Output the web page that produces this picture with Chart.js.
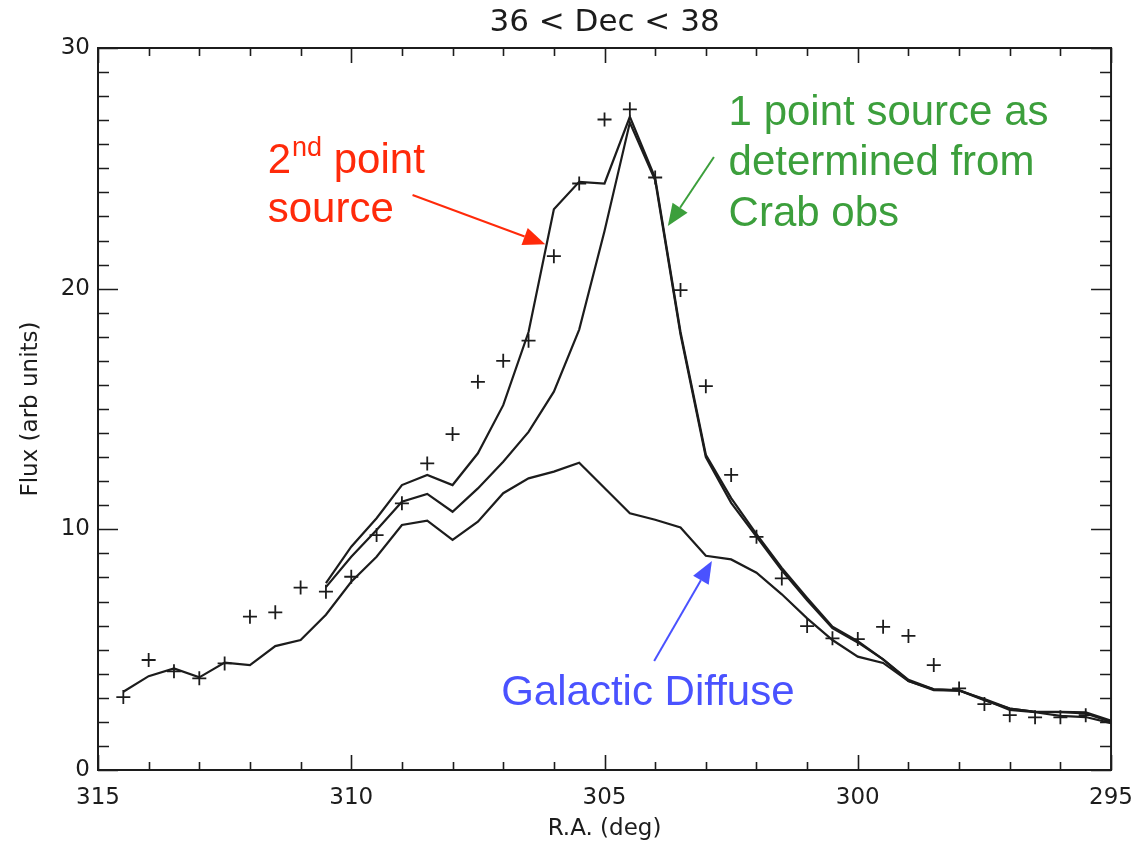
<!DOCTYPE html>
<html>
<head>
<meta charset="utf-8">
<title>36 &lt; Dec &lt; 38</title>
<script src="https://cdn.jsdelivr.net/npm/chart.js@4.4.0/dist/chart.umd.min.js"></script>
<style>
  html, body { margin: 0; padding: 0; background: #ffffff; }
  #fluxChart { display: block; }
</style>
</head>
<body>
<canvas id="fluxChart" width="1147" height="845"></canvas>
<script>
        // measured flux (crosses)
        const raObs = [314.5, 314, 313.5, 313, 312.5, 312, 311.5, 311, 310.5, 310,
                       309.5, 309, 308.5, 308, 307.5, 307, 306.5, 306, 305.5, 305,
                       304.5, 304, 303.5, 303, 302.5, 302, 301.5, 301, 300.5, 300,
                       299.5, 299, 298.5, 298, 297.5, 297, 296.5, 296, 295.5];
        const fluxObs = [3.03, 4.57, 4.1, 3.81, 4.43, 6.37, 6.55, 7.58, 7.41, 8.03,
                         9.76, 11.08, 12.74, 13.96, 16.13, 17.0, 17.84, 21.35, 24.37, 27.03,
                         27.45, 24.62, 19.94, 15.95, 12.26, 9.69, 7.96, 5.98, 5.47, 5.44,
                         5.95, 5.57, 4.36, 3.39, 2.74, 2.28, 2.19, 2.19, 2.28];

        // model curves
        const raModel = [314.5, 314, 313.5, 313, 312.5, 312, 311.5, 311, 310.5, 310,
                         309.5, 309, 308.5, 308, 307.5, 307, 306.5, 306, 305.5, 305,
                         304.5, 304, 303.5, 303, 302.5, 302, 301.5, 301, 300.5, 300,
                         299.5, 299, 298.5, 298, 297.5, 297, 296.5, 296, 295.5, 295];
        const galacticDiffuse = [3.25, 3.9, 4.22, 3.85, 4.46, 4.36, 5.15, 5.4, 6.45, 7.82,
                                 8.86, 10.18, 10.36, 9.56, 10.32, 11.5, 12.12, 12.4, 12.77, 11.72,
                                 10.67, 10.4, 10.08, 8.9, 8.75, 8.2, 7.3, 6.3, 5.4, 4.71,
                                 4.45, 3.7, 3.32, 3.3, 2.95, 2.55, 2.42, 2.4, 2.35, 2.0];
        const onePointSource = [null, null, null, null, null, null, null, null, 7.6, 8.86,
                                9.97, 11.15, 11.47, 10.73, 11.7, 12.81, 14.05, 15.72, 18.3, 22.4,
                                26.9, 24.5, 18.1, 13.0, 11.1, 9.7, 8.3, 7.05, 5.9, 5.3,
                                4.6, 3.7, 3.35, 3.3, 2.9, 2.55, 2.42, 2.42, 2.4, 2.05];
        const twoPointSources = [null, null, null, null, null, null, null, null, 7.76, 9.28,
                                 10.46, 11.84, 12.26, 11.84, 13.16, 15.16, 18.2, 23.3, 24.44, 24.37,
                                 27.14, 24.6, 18.2, 13.1, 11.3, 9.8, 8.4, 7.15, 5.95, 5.35,
                                 4.6, 3.75, 3.35, 3.32, 2.92, 2.5, 2.4, 2.25, 2.2, 1.95];

        const INK = '#1c1c1c';
        const RED = '#ff2a0a';
        const GREEN = '#3c9f3c';
        const BLUE = '#4a52ff';
        const AXIS_FONT = 'DejaVu Sans';
        const NOTE_FONT = '42px "Liberation Sans", Arial, sans-serif';

        function toPoints(xs, ys) {
            return xs.map((x, i) => ({ x: x, y: ys[i] }));
        }

        function modelLine(label, values) {
            return {
                label: label,
                data: toPoints(raModel, values),
                borderColor: INK,
                borderWidth: 2.2,
                pointRadius: 0,
                tension: 0,
                spanGaps: false
            };
        }

        // box frame with inward ticks on all four sides
        const framePlugin = {
            id: 'frame',
            afterDatasetsDraw(chart) {
                const { ctx, chartArea: a, scales: { x, y } } = chart;
                ctx.save();
                ctx.strokeStyle = INK;
                ctx.lineWidth = 1.6;
                ctx.beginPath();
                for (let v = 295; v <= 315; v++) {
                    const px = Math.round(x.getPixelForValue(v)) + 0.5;
                    const len = v % 5 === 0 ? 15 : 8;
                    ctx.moveTo(px, a.bottom); ctx.lineTo(px, a.bottom - len);
                    ctx.moveTo(px, a.top); ctx.lineTo(px, a.top + len);
                }
                for (let v = 0; v <= 30; v++) {
                    const py = Math.round(y.getPixelForValue(v)) + 0.5;
                    const len = v % 10 === 0 ? 20 : 11;
                    ctx.moveTo(a.left, py); ctx.lineTo(a.left + len, py);
                    ctx.moveTo(a.right, py); ctx.lineTo(a.right - len, py);
                }
                ctx.stroke();
                ctx.lineWidth = 2;
                ctx.strokeRect(a.left, a.top, a.right - a.left, a.bottom - a.top);

                // title
                ctx.fillStyle = INK;
                ctx.font = '31px "' + AXIS_FONT + '"';
                ctx.textAlign = 'center';
                ctx.textBaseline = 'middle';
                ctx.fillText('36 < Dec < 38', (a.left + a.right) / 2, 23);
                ctx.restore();
            }
        };

        // coloured labels and arrows, anchored in data coordinates
        function drawArrow(ctx, x0, y0, x1, y1, color) {
            const ang = Math.atan2(y1 - y0, x1 - x0);
            const head = 22, half = 9;
            ctx.strokeStyle = color;
            ctx.fillStyle = color;
            ctx.lineWidth = 2;
            ctx.beginPath();
            ctx.moveTo(x0, y0);
            ctx.lineTo(x1 - Math.cos(ang) * head, y1 - Math.sin(ang) * head);
            ctx.stroke();
            ctx.beginPath();
            ctx.moveTo(x1, y1);
            ctx.lineTo(x1 - Math.cos(ang) * head - Math.sin(ang) * half, y1 - Math.sin(ang) * head + Math.cos(ang) * half);
            ctx.lineTo(x1 - Math.cos(ang) * head + Math.sin(ang) * half, y1 - Math.sin(ang) * head - Math.cos(ang) * half);
            ctx.closePath();
            ctx.fill();
        }

        const notesPlugin = {
            id: 'notes',
            afterDraw(chart) {
                const { ctx, scales: { x, y } } = chart;
                const px = v => x.getPixelForValue(v);
                const py = v => y.getPixelForValue(v);
                ctx.save();
                ctx.textAlign = 'left';
                ctx.textBaseline = 'alphabetic';

                // 2nd point source
                ctx.fillStyle = RED;
                ctx.font = NOTE_FONT;
                let tx = px(311.65);
                ctx.fillText('2', tx, py(24.8));
                tx += ctx.measureText('2').width;
                ctx.font = '27px "Liberation Sans", Arial, sans-serif';
                ctx.fillText('nd', tx + 1, py(25.5));
                tx += ctx.measureText('nd').width + 1;
                ctx.font = NOTE_FONT;
                ctx.fillText(' point', tx, py(24.8));
                ctx.fillText('source', px(311.65), py(22.77));
                drawArrow(ctx, px(308.79), py(23.89), px(306.17), py(21.85), RED);

                // 1 point source
                ctx.fillStyle = GREEN;
                ctx.fillText('1 point source as', px(302.55), py(26.8));
                ctx.fillText('determined from', px(302.55), py(24.72));
                ctx.fillText('Crab obs', px(302.55), py(22.62));
                drawArrow(ctx, px(302.84), py(25.47), px(303.75), py(22.6), GREEN);

                // galactic diffuse
                ctx.fillStyle = BLUE;
                ctx.fillText('Galactic Diffuse', px(307.04), py(2.7));
                drawArrow(ctx, px(304.02), py(4.53), px(302.88), py(8.68), BLUE);
                ctx.restore();
            }
        };

        const whiteBg = {
            id: 'whiteBg',
            beforeDraw(chart) {
                const { ctx, width, height } = chart;
                ctx.save();
                ctx.fillStyle = '#ffffff';
                ctx.fillRect(0, 0, width, height);
                ctx.restore();
            }
        };

        const ctx = document.getElementById('fluxChart').getContext('2d');
        const fluxChart = new Chart(ctx, {
            type: 'line',
            data: {
                datasets: [
                    modelLine('Galactic Diffuse', galacticDiffuse),
                    modelLine('1 point source', onePointSource),
                    modelLine('2 point sources', twoPointSources),
                    {
                        label: 'Observed',
                        data: toPoints(raObs, fluxObs),
                        showLine: false,
                        pointStyle: 'cross',
                        pointRadius: 7,
                        pointBorderWidth: 1.8,
                        pointBorderColor: INK,
                        borderColor: INK
                    }
                ]
            },
            options: {
                responsive: false,
                animation: false,
                devicePixelRatio: 1,
                layout: { padding: { top: 48, right: 34, left: 0, bottom: 0 } },
                plugins: {
                    legend: { display: false },
                    title: { display: false },
                    tooltip: { enabled: false }
                },
                scales: {
                    x: {
                        type: 'linear',
                        reverse: true,
                        min: 295,
                        max: 315,
                        afterFit: s => { s.height = 75; },
                        grid: { display: false, drawTicks: false },
                        border: { display: false },
                        ticks: {
                            stepSize: 5,
                            padding: 14,
                            color: INK,
                            font: { family: AXIS_FONT, size: 23 },
                            maxRotation: 0,
                            callback: v => String(v)
                        },
                        title: {
                            display: true,
                            text: 'R.A. (deg)',
                            color: INK,
                            font: { family: AXIS_FONT, size: 23 },
                            padding: { top: 0, bottom: 2 }
                        }
                    },
                    y: {
                        type: 'linear',
                        min: 0,
                        max: 30,
                        afterFit: s => { s.width = 98; },
                        grid: { display: false, drawTicks: false },
                        border: { display: false },
                        ticks: {
                            stepSize: 10,
                            padding: 8,
                            color: INK,
                            font: { family: AXIS_FONT, size: 23 },
                            callback: v => String(v)
                        },
                        title: {
                            display: true,
                            text: 'Flux (arb units)',
                            color: INK,
                            font: { family: AXIS_FONT, size: 23 },
                            padding: { top: 17, bottom: 0 }
                        }
                    }
                }
            },
            plugins: [whiteBg, framePlugin, notesPlugin]
        });
</script>
</body>
</html>
